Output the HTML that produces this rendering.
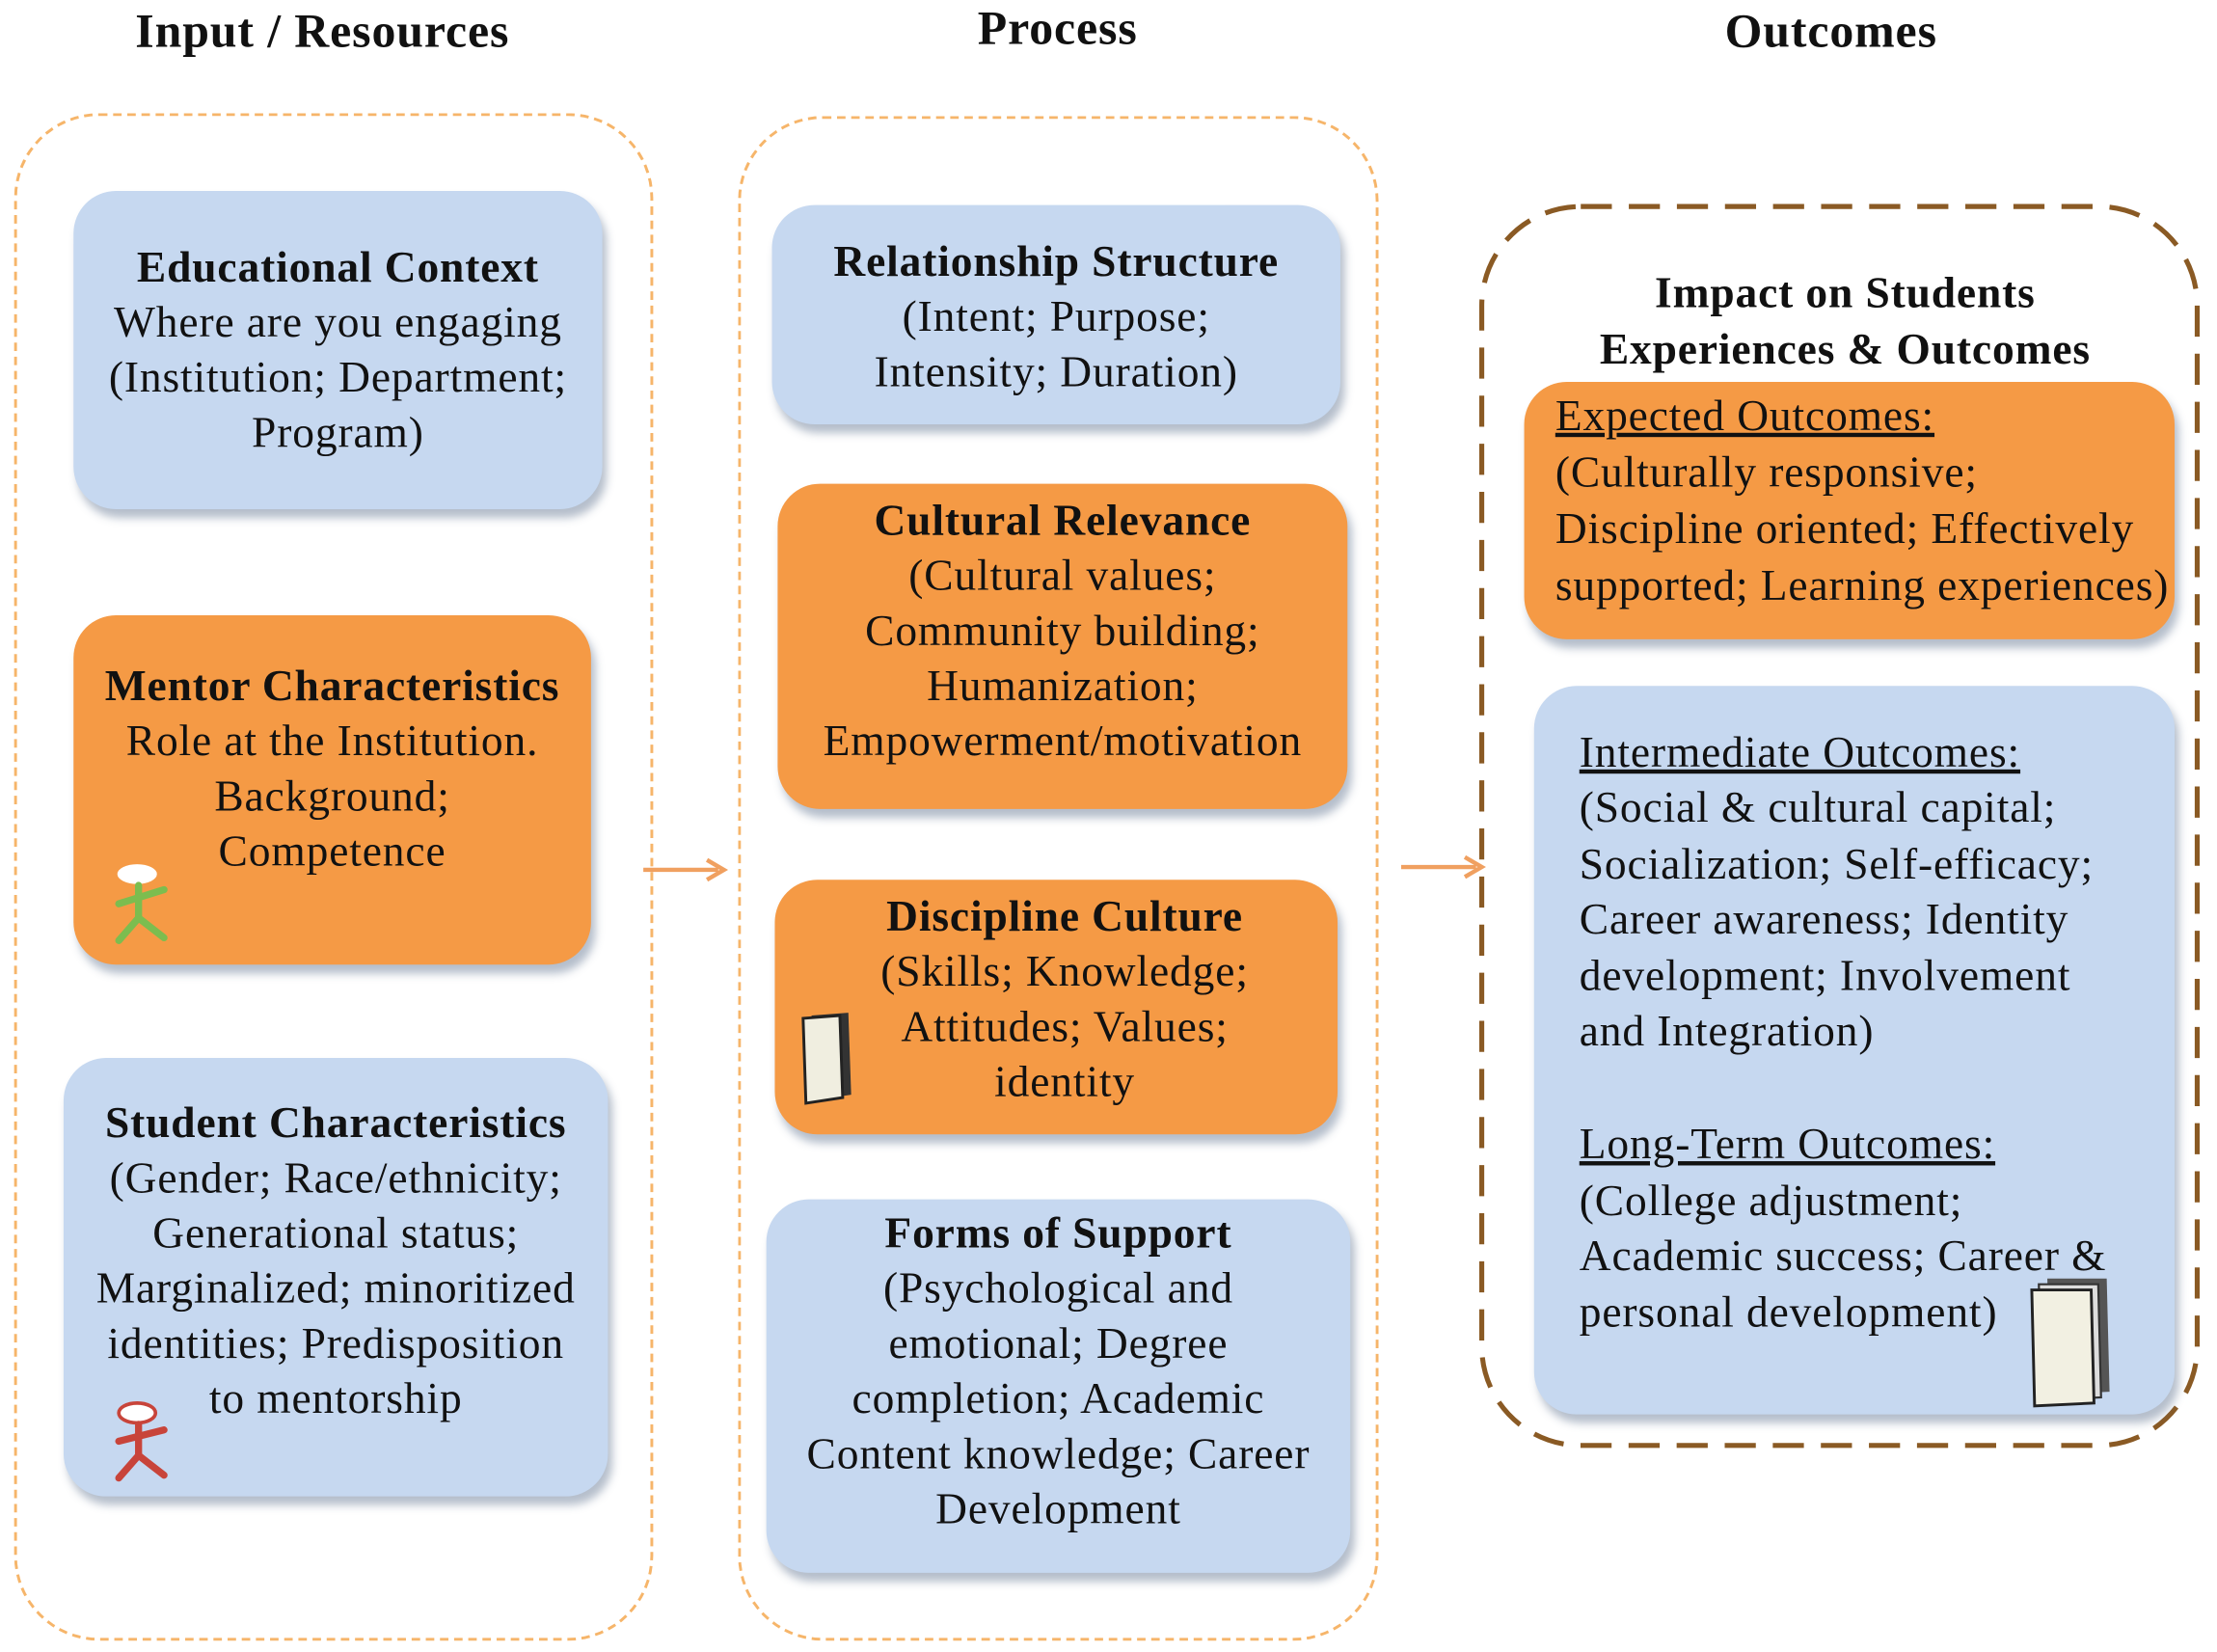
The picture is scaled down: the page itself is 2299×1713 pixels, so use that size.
<!DOCTYPE html>
<html><head><meta charset="utf-8">
<style>
html,body{margin:0;padding:0;background:#fff;}
body{width:2299px;height:1713px;overflow:hidden;position:relative;}
#w{position:absolute;left:0;top:0;width:1568px;height:1168px;transform:scale(1.4662,1.4666);transform-origin:0 0;font-family:"Liberation Serif",serif;color:#111;}
.h{position:absolute;font-weight:bold;font-size:34px;letter-spacing:0.6px;white-space:nowrap;transform:translateX(-50%);}
.c{position:absolute;box-sizing:border-box;}
.b{position:absolute;box-sizing:border-box;border-radius:30px;font-size:31px;letter-spacing:0.6px;line-height:39px;text-align:center;white-space:nowrap;box-shadow:3px 6px 6px rgba(90,110,140,0.45);}
.bl{background:#c6d8f0;}
.or{background:#f59a45;}
.b b{font-weight:bold;}
.l{text-align:left;}
u{text-decoration:underline;}
</style></head><body><div id="w">
<div class="h" style="left:228px;top:4px">Input / Resources</div>
<div class="h" style="left:748px;top:2px">Process</div>
<div class="h" style="left:1295px;top:4px">Outcomes</div>

<div class="c" style="left:10px;top:80px;width:452px;height:1080px;border:2.5px dashed #f6b56a;border-radius:60px;"></div>
<div class="c" style="left:522px;top:82px;width:453px;height:1078px;border:2.5px dashed #f6b56a;border-radius:60px;"></div>
<svg class="c" style="left:1040px;top:140px" width="522" height="890"><rect x="8" y="6" width="506" height="876" rx="70" fill="none" stroke="#8a5a24" stroke-width="3.5" stroke-dasharray="22,12"/></svg>

<div class="b bl" style="left:52px;top:135px;width:374px;height:225px;padding-top:34px"><b>Educational Context</b><br>Where are you engaging<br>(Institution; Department;<br>Program)</div>
<div class="b or" style="left:52px;top:435px;width:366px;height:247px;padding-top:30px"><b>Mentor Characteristics</b><br>Role at the Institution.<br>Background;<br>Competence</div>
<div class="b bl" style="left:45px;top:748px;width:385px;height:310px;padding-top:26px"><b>Student Characteristics</b><br>(Gender; Race/ethnicity;<br>Generational status;<br>Marginalized; minoritized<br>identities; Predisposition<br>to mentorship</div>

<div class="b bl" style="left:546px;top:145px;width:402px;height:155px;padding-top:20px"><b>Relationship Structure</b><br>(Intent; Purpose;<br>Intensity; Duration)</div>
<div class="b or" style="left:550px;top:342px;width:403px;height:230px;padding-top:6px"><b>Cultural Relevance</b><br>(Cultural values;<br>Community building;<br>Humanization;<br>Empowerment/motivation</div>
<div class="b or" style="left:548px;top:622px;width:398px;height:180px;padding-top:6px;padding-left:12px"><b>Discipline Culture</b><br>(Skills; Knowledge;<br>Attitudes; Values;<br>identity</div>
<div class="b bl" style="left:542px;top:848px;width:413px;height:264px;padding-top:4px"><b>Forms of Support</b><br>(Psychological and<br>emotional; Degree<br>completion; Academic<br>Content knowledge; Career<br>Development</div>

<div class="b" style="left:1050px;top:187px;width:510px;box-shadow:none;line-height:40px"><b>Impact on Students<br>Experiences &amp; Outcomes</b></div>
<div class="b or l" style="left:1078px;top:270px;width:460px;height:182px;padding:4px 0 0 22px;line-height:40px"><u>Expected Outcomes:</u><br>(Culturally responsive;<br>Discipline oriented; Effectively<br>supported; Learning experiences)</div>
<div class="b bl l" style="left:1085px;top:485px;width:453px;height:515px;padding:27px 0 0 32px;line-height:39.4px"><u>Intermediate Outcomes:</u><br>(Social &amp; cultural capital;<br>Socialization; Self-efficacy;<br>Career awareness; Identity<br>development; Involvement<br>and Integration)<br><div style="height:41px"></div><u>Long-Term Outcomes:</u><br>(College adjustment;<br>Academic success; Career &amp;<br>personal development)</div>

<!-- arrows -->
<svg class="c" style="left:450px;top:600px" width="70" height="30"><line x1="5" y1="15" x2="58" y2="15" stroke="#f0a060" stroke-width="3"/><path d="M50,8 L62,15 L50,22" fill="none" stroke="#f0a060" stroke-width="3"/></svg>
<svg class="c" style="left:988px;top:598px" width="70" height="30"><line x1="3" y1="15" x2="56" y2="15" stroke="#f0a060" stroke-width="3"/><path d="M48,8 L60,15 L48,22" fill="none" stroke="#f0a060" stroke-width="3"/></svg>

<!-- icons -->
<svg class="c" style="left:76px;top:605px" width="50" height="70"><ellipse cx="21" cy="13" rx="14" ry="7" fill="#fff"/><g stroke="#7cbd4f" stroke-width="5" stroke-linecap="round"><line x1="22" y1="21" x2="22" y2="44"/><line x1="8" y1="34" x2="40" y2="24"/><line x1="22" y1="44" x2="8" y2="60"/><line x1="22" y1="44" x2="40" y2="58"/></g></svg>
<svg class="c" style="left:76px;top:985px" width="50" height="70"><ellipse cx="21" cy="14" rx="13" ry="7" fill="#fff" stroke="#c8443a" stroke-width="2.5"/><g stroke="#c8443a" stroke-width="5" stroke-linecap="round"><line x1="22" y1="22" x2="22" y2="44"/><line x1="8" y1="34" x2="40" y2="26"/><line x1="22" y1="44" x2="8" y2="60"/><line x1="22" y1="44" x2="40" y2="58"/></g></svg>
<svg class="c" style="left:562px;top:710px" width="50" height="75"><path d="M12,8 L38,6 L40,64 L14,68 Z" fill="#333"/><path d="M6,10 L32,8 L34,66 L8,70 Z" fill="#f0eee0" stroke="#222" stroke-width="2"/></svg>
<svg class="c" style="left:1432px;top:898px" width="65" height="100"><path d="M16,6 L58,6 L60,86 L18,88 Z" fill="#555"/><path d="M10,10 L52,10 L54,90 L12,92 Z" fill="#ddd" stroke="#333" stroke-width="1.5"/><path d="M5,14 L47,14 L49,94 L7,96 Z" fill="#f2f0e2" stroke="#222" stroke-width="2"/></svg>
</div></body></html>
